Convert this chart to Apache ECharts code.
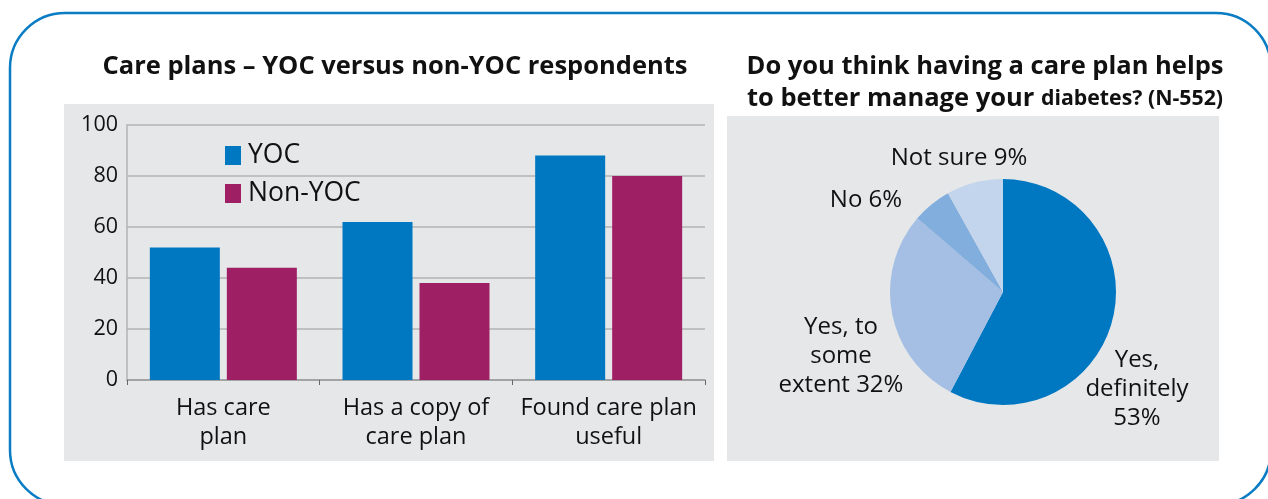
<!DOCTYPE html>
<html>
<head>
<meta charset="utf-8">
<script src="https://cdn.jsdelivr.net/npm/echarts@6/dist/echarts.min.js"></script>
<style>
html,body{margin:0;padding:0;background:#fff;}
#c{width:1268px;height:499px;}
</style>
</head>
<body>
<div id="c"></div>
<script>
// ---- data ----
const categories = ['Has care\nplan', 'Has a copy of\ncare plan', 'Found care plan\nuseful'];
const yocValues = [52, 62, 88];
const nonYocValues = [44, 38, 80];
const yTicks = [0, 20, 40, 60, 80, 100];

const pieNames = ['Yes,\ndefinitely', 'Yes, to\nsome\nextent', 'No', 'Not sure'];
const piePrinted = [53, 32, 6, 9];          // percentages printed on the labels
const pieDrawn = [57.7, 28.6, 5.6, 8.1];     // slice sizes as drawn in the picture

// ---- layout / style ----
const FONT = 'Open Sans';
const pieColors = ['#0078c1', '#a4bfe3', '#82aedd', '#c3d5ec'];
const labelPos = [
  {x: 1137, y: 389},
  {x: 841, y: 356},
  {x: 866, y: 200},
  {x: 959, y: 158}
];

const chart = echarts.init(document.getElementById('c'));
chart.setOption({
  animation: false,
  textStyle: {fontFamily: FONT},
  graphic: [
    {type: 'rect', z: -10, shape: {x: 64, y: 104, width: 650, height: 357}, style: {fill: '#e6e7e9'}},
    {type: 'rect', z: -10, shape: {x: 727, y: 116, width: 492, height: 345}, style: {fill: '#e6e7e9'}},
    {type: 'rect', z: 10, shape: {x: 10, y: 13, width: 1261, height: 492, r: 55},
     style: {fill: 'none', stroke: '#0a7cc4', lineWidth: 2.5}}
  ],
  title: [
    {text: '{a|Care plans – YOC versus non-YOC respondents}', left: 390, top: 46, textAlign: 'center',
     textStyle: {rich: {a: {fontFamily: FONT, fontWeight: 'bold', fontSize: 25.5, color: '#111', lineHeight: 32}}}},
    {text: '{a|Do you think having a care plan helps}\n{a|to better manage your }{b|diabetes? (N-552)}',
     left: 980, top: 46, textAlign: 'center',
     textStyle: {rich: {
       a: {fontFamily: FONT, fontWeight: 'bold', fontSize: 25.5, color: '#111', lineHeight: 32},
       b: {fontFamily: FONT, fontWeight: 'bold', fontSize: 21.3, color: '#111', lineHeight: 32}
     }}}
  ],
  legend: {
    orient: 'vertical', left: 220, top: 137, itemWidth: 16, itemHeight: 19, itemGap: 11,
    icon: 'rect', data: ['YOC', 'Non-YOC'],
    textStyle: {fontFamily: FONT, fontSize: 26.5, color: '#111', padding: [0, 0, 0, 2]}
  },
  grid: {left: 127, right: 563, top: 125, bottom: 119, containLabel: false},
  xAxis: {
    type: 'category', data: categories,
    axisLine: {lineStyle: {color: '#999', width: 1.5}},
    axisTick: {show: true, length: 5, lineStyle: {color: '#666'}},
    axisLabel: {interval: 0, hideOverlap: false, fontFamily: FONT, fontSize: 23.5, color: '#111',
      lineHeight: 29, margin: 14}
  },
  yAxis: {
    type: 'value', min: yTicks[0], max: yTicks[yTicks.length - 1], interval: 20,
    axisLine: {show: true, lineStyle: {color: '#b3b3b3', width: 1.5}},
    axisTick: {show: false},
    splitLine: {lineStyle: {color: '#b3b3b3', width: 1.5}},
    axisLabel: {fontFamily: FONT, fontSize: 21.5, color: '#111', margin: 9}
  },
  series: [
    {name: 'YOC', type: 'bar', data: yocValues, barWidth: 70, barGap: '10%',
     itemStyle: {color: '#0078c1'}},
    {name: 'Non-YOC', type: 'bar', data: nonYocValues, barWidth: 70, barGap: '10%',
     itemStyle: {color: '#9e1f63'}},
    {type: 'pie', center: [1003, 292], radius: 113, startAngle: 90, clockwise: true,
     data: pieNames.map((n, i) => ({name: n, value: pieDrawn[i], itemStyle: {color: pieColors[i]}})),
     label: {show: true, position: 'outside', fontFamily: FONT, fontSize: 24, color: '#111',
       lineHeight: 29, align: 'center', overflow: 'none', width: 200, alignTo: 'none', bleedMargin: 0,
       formatter: p => p.name + (p.dataIndex === 0 ? '\n' : ' ') + piePrinted[p.dataIndex] + '%'},
     labelLine: {show: false},
     labelLayout: p => ({x: labelPos[p.dataIndex].x, y: labelPos[p.dataIndex].y,
       align: 'center', verticalAlign: 'middle'}),
     emphasis: {disabled: true}}
  ]
});
</script>
</body>
</html>
